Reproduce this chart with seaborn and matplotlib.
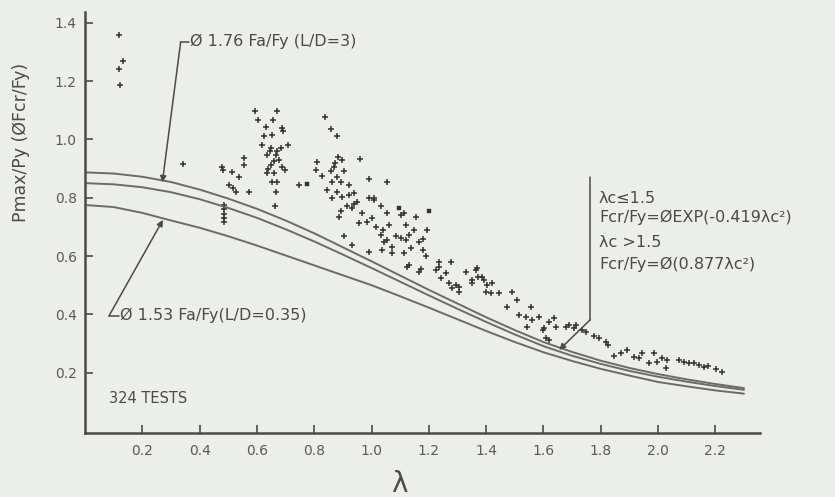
import numpy as np
import pandas as pd
import matplotlib
matplotlib.use("Agg")
import matplotlib.pyplot as plt
import seaborn as sns

# design curves (lambda vs P/Py)
lam_grid = [0.0, 0.1, 0.2, 0.3, 0.4, 0.5, 0.6, 0.7, 0.8, 0.9, 1.0, 1.1,
            1.2, 1.3, 1.4, 1.5, 1.6, 1.7, 1.8, 1.9, 2.0, 2.1, 2.2, 2.3]
curve_top = [0.887, 0.883, 0.872, 0.854, 0.828, 0.797, 0.762, 0.722, 0.678, 0.630,
             0.582, 0.533, 0.484, 0.437, 0.390, 0.346, 0.305, 0.271, 0.241, 0.216,
             0.195, 0.177, 0.161, 0.147]
curve_mid = [0.850, 0.846, 0.836, 0.819, 0.795, 0.765, 0.731, 0.692, 0.650, 0.605,
             0.559, 0.512, 0.465, 0.419, 0.374, 0.331, 0.291, 0.258, 0.230, 0.206,
             0.186, 0.169, 0.154, 0.141]
curve_low = [0.775, 0.768, 0.748, 0.722, 0.697, 0.668, 0.636, 0.602, 0.568, 0.534,
             0.500, 0.462, 0.423, 0.383, 0.343, 0.305, 0.270, 0.240, 0.213, 0.190,
             0.168, 0.153, 0.139, 0.128]

# test results (lambda, Pmax/Py)
test_lam = [
    0.119, 0.133, 0.119, 0.121, 0.342,
    0.478, 0.483, 0.513, 0.537, 0.555, 0.555, 0.503, 0.515, 0.527, 0.572,
    0.485, 0.485, 0.485, 0.485, 0.485,
    0.593, 0.671, 0.604, 0.656, 0.631, 0.687, 0.692, 0.625, 0.653, 0.618,
    0.709, 0.648, 0.683, 0.636, 0.665, 0.677, 0.648, 0.688, 0.660, 0.636,
    0.698, 0.653, 0.671, 0.665, 0.663, 0.645, 0.670, 0.660, 0.640, 0.747,
    0.838, 0.858, 0.878, 0.959, 0.884, 0.898, 0.873, 0.810, 0.805, 0.858,
    0.904, 0.991, 1.055, 0.826, 0.863, 0.892, 0.921, 0.846, 0.881, 0.898,
    0.939, 0.863, 0.991, 1.009, 0.915, 0.933, 0.950, 1.032, 0.892, 0.968,
    1.055, 0.887, 0.956, 0.985, 1.015, 1.061, 1.102, 1.032, 1.055, 1.085,
    0.904, 0.933, 0.991, 1.037, 1.072, 1.119, 1.009, 0.870, 0.880, 0.920,
    0.940, 1.000, 1.040,
    1.113, 1.154, 1.119, 1.195, 1.131, 1.102, 1.166, 1.044, 1.073, 1.137,
    1.178, 1.113, 1.190, 1.125, 1.172, 1.236, 1.276, 1.224, 1.259, 1.241,
    1.271, 1.305, 1.329, 1.369, 1.387, 1.352, 1.404, 1.282, 1.131, 1.166,
    1.236, 1.294, 1.364, 1.150, 1.180,
    1.370, 1.393, 1.422, 1.352, 1.399, 1.416, 1.445, 1.492, 1.509, 1.474,
    1.556, 1.515, 1.538, 1.561, 1.585, 1.544, 1.602, 1.620, 1.643, 1.678,
    1.707, 1.608, 1.736, 1.305, 1.597, 1.637, 1.690, 1.620,
    1.713, 1.747, 1.777, 1.794, 1.817, 1.826, 1.846, 1.870, 1.893, 1.916,
    1.934, 1.945, 1.969, 1.986, 1.998, 2.015, 2.032, 2.029, 2.073, 2.091,
    2.108, 2.126, 2.143, 2.161, 2.176, 2.201, 2.225,
]
test_val = [
    1.358, 1.270, 1.240, 1.187, 0.916,
    0.905, 0.895, 0.888, 0.871, 0.937, 0.913, 0.844, 0.835, 0.820, 0.821,
    0.775, 0.760, 0.745, 0.730, 0.718,
    1.099, 1.099, 1.065, 1.067, 1.044, 1.038, 1.030, 1.013, 1.015, 0.981,
    0.981, 0.969, 0.969, 0.947, 0.947, 0.930, 0.913, 0.907, 0.884, 0.885,
    0.895, 0.855, 0.853, 0.819, 0.770, 0.960, 0.960, 0.925, 0.900, 0.844,
    1.078, 1.035, 1.013, 0.932, 0.939, 0.930, 0.920, 0.924, 0.895, 0.890,
    0.890, 0.863, 0.855, 0.873, 0.855, 0.855, 0.844, 0.827, 0.821, 0.804,
    0.815, 0.798, 0.798, 0.798, 0.770, 0.764, 0.787, 0.770, 0.753, 0.747,
    0.747, 0.735, 0.712, 0.718, 0.701, 0.707, 0.741, 0.672, 0.655, 0.667,
    0.667, 0.638, 0.615, 0.621, 0.610, 0.655, 0.792, 0.905, 0.870, 0.810,
    0.780, 0.730, 0.690,
    0.747, 0.735, 0.707, 0.690, 0.672, 0.661, 0.649, 0.649, 0.632, 0.627,
    0.621, 0.610, 0.600, 0.564, 0.555, 0.581, 0.581, 0.552, 0.541, 0.524,
    0.507, 0.495, 0.546, 0.558, 0.529, 0.518, 0.501, 0.490, 0.569, 0.546,
    0.564, 0.501, 0.552, 0.690, 0.660,
    0.529, 0.518, 0.507, 0.507, 0.478, 0.472, 0.472, 0.478, 0.449, 0.426,
    0.426, 0.398, 0.392, 0.381, 0.392, 0.358, 0.352, 0.375, 0.358, 0.358,
    0.352, 0.318, 0.346, 0.478, 0.346, 0.387, 0.364, 0.312,
    0.364, 0.341, 0.324, 0.318, 0.306, 0.295, 0.257, 0.267, 0.278, 0.255,
    0.249, 0.267, 0.232, 0.267, 0.238, 0.249, 0.244, 0.215, 0.244, 0.238,
    0.232, 0.234, 0.226, 0.221, 0.223, 0.212, 0.203,
]
# a few tests plotted with square symbols
square_lam = [0.774, 1.096, 1.200]
square_val = [0.846, 0.764, 0.753]

x_ticks = [0.2, 0.4, 0.6, 0.8, 1.0, 1.2, 1.4, 1.6, 1.8, 2.0, 2.2]
y_ticks = [0.2, 0.4, 0.6, 0.8, 1.0, 1.2, 1.4]

paper = "#eceeea"
ink = "#4a4a4a"

sns.set_theme(style="ticks")
plt.rcParams["font.family"] = ["DejaVu Sans"]

curves = pd.DataFrame({
    "lam": lam_grid * 3,
    "ratio": curve_top + curve_mid + curve_low,
    "curve": ["top"] * len(lam_grid) + ["mid"] * len(lam_grid) + ["low"] * len(lam_grid),
})
tests = pd.DataFrame({"lam": test_lam, "ratio": test_val})
squares = pd.DataFrame({"lam": square_lam, "ratio": square_val})

fig = plt.figure(figsize=(8.35, 4.97), dpi=100, facecolor=paper)
ax = fig.add_axes([0.1018, 0.1288, 0.8084, 0.847])
ax.set_facecolor(paper)

sns.lineplot(data=curves, x="lam", y="ratio", hue="curve", units="curve",
             estimator=None, sort=False, palette=["#6b6b6b"] * 3,
             linewidth=1.4, legend=False, ax=ax)
sns.scatterplot(data=tests, x="lam", y="ratio", marker="+", s=16,
                color="#333333", linewidth=1.1, ax=ax)
sns.scatterplot(data=squares, x="lam", y="ratio", marker="s", s=12,
                color="#333333", edgecolor="#333333", ax=ax)

arrow = dict(arrowstyle="-|>", color=ink, lw=1.1, mutation_scale=9,
             shrinkA=0, shrinkB=0)
label_font = dict(fontsize=11.5, color=ink)

# upper curve label
ax.plot([0.334, 0.362], [1.335, 1.335], color=ink, lw=1.1)
ax.annotate("", xy=(0.270, 0.853), xytext=(0.334, 1.335), arrowprops=arrow)
ax.text(0.368, 1.335, "Ø 1.76 Fa/Fy (L/D=3)", va="center", ha="left", **label_font)

# lower curve label
ax.plot([0.084, 0.118], [0.395, 0.395], color=ink, lw=1.1)
ax.annotate("", xy=(0.272, 0.724), xytext=(0.084, 0.395), arrowprops=arrow)
ax.text(0.122, 0.395, "Ø 1.53 Fa/Fy(L/D=0.35)", va="center", ha="left", **label_font)

# LRFD formula label
ax.plot([1.763, 1.763], [0.871, 0.381], color=ink, lw=1.1)
ax.annotate("", xy=(1.655, 0.278), xytext=(1.763, 0.381), arrowprops=arrow)
ax.text(1.794, 0.799, "λc≤1.5", va="center", **label_font)
ax.text(1.794, 0.734, "Fcr/Fy=ØEXP(-0.419λc²)", va="center", **label_font)
ax.text(1.794, 0.645, "λc >1.5", va="center", **label_font)
ax.text(1.794, 0.570, "Fcr/Fy=Ø(0.877λc²)", va="center", **label_font)

ax.text(0.084, 0.11, "324 TESTS", fontsize=10.5, color=ink, va="center")

ax.set_xlim(0.0, 2.356)
ax.set_ylim(-0.007, 1.437)
ax.set_xticks(x_ticks)
ax.set_xticklabels([f"{v:.1f}" for v in x_ticks])
ax.set_yticks(y_ticks)
ax.set_yticklabels([f"{v:.1f}" for v in y_ticks])
ax.tick_params(direction="in", length=6, width=1.2, colors=ink,
               labelsize=10, labelcolor="#5a5a5a")
ax.tick_params(axis="x", pad=8)
ax.tick_params(axis="y", pad=6)

for side in ["top", "right"]:
    ax.spines[side].set_visible(False)
for side in ["left", "bottom"]:
    ax.spines[side].set_color(ink)
    ax.spines[side].set_linewidth(1.8)

ax.set_xlabel("λ", fontsize=20, color=ink)
ax.xaxis.set_label_coords(0.465, -0.088)
ax.set_ylabel("Pmax/Py (ØFcr/Fy)", fontsize=12.5, color=ink)
ax.yaxis.set_label_coords(-0.081, 0.69)

fig.savefig("out.png", dpi=100, facecolor=paper)
